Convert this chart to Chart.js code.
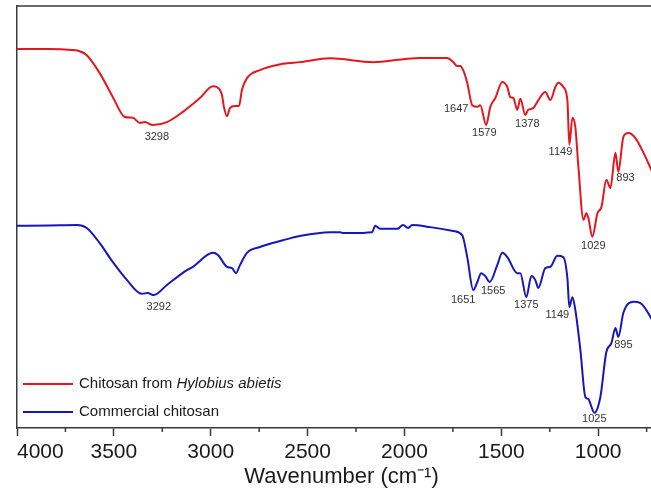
<!DOCTYPE html>
<html>
<head>
<meta charset="utf-8">
<title>FTIR spectra of chitosan</title>
<script src="https://cdn.jsdelivr.net/npm/chart.js@4.4.0/dist/chart.umd.min.js"></script>
<style>
    html, body { margin: 0; padding: 0; background: #fff; overflow: hidden; width: 651px; height: 492px; }
    #wrap { position: relative; width: 680px; height: 492px; }
</style>
</head>
<body>
<div id="wrap"><canvas id="ftirChart" width="680" height="492"></canvas></div>
<script>
// Spectrum values (wavenumber in cm-1, transmittance in a.u.)
const hylobiusWn = [4000, 3831, 3719, 3685, 3641, 3573, 3505, 3443, 3402, 3366, 3340, 3299, 3226, 3144, 3056, 2989, 2968, 2942, 2932, 2916,
    2901, 2875, 2854, 2839, 2813, 2746, 2627, 2539, 2384, 2162, 2007, 1919, 1779, 1748, 1728, 1712, 1697, 1676, 1650, 1624,
    1609, 1578, 1557, 1531, 1495, 1469, 1454, 1438, 1418, 1402, 1376, 1361, 1335, 1309, 1273, 1247, 1221, 1206, 1180, 1159,
    1149, 1133, 1118, 1102, 1076, 1061, 1051, 1030, 1004, 983, 958, 937, 911, 896, 870, 844, 808, 766, 730, 690];
const hylobiusT = [89.8, 89.8, 89.6, 89.4, 88.4, 84.1, 78.4, 73.7, 73.5, 72.3, 72.5, 71.8, 72.5, 74.9, 78.2, 81.0, 80.8, 78.9, 76.1, 73.9,
    75.8, 76.3, 76.3, 80.1, 82.9, 84.8, 86.3, 86.7, 87.6, 86.7, 87.4, 87.7, 87.7, 86.7, 85.8, 85.8, 84.8, 81.8, 76.5, 76.1,
    76.5, 71.8, 76.1, 78.2, 82.0, 80.8, 78.4, 78.2, 75.4, 78.0, 74.2, 75.4, 75.8, 77.7, 79.6, 77.7, 80.8, 81.8, 80.8, 77.7,
    67.1, 73.5, 71.3, 61.8, 49.3, 50.9, 49.8, 45.3, 50.9, 52.4, 58.8, 56.9, 65.2, 60.7, 69.0, 69.9, 68.7, 65.2, 61.6, 57.5];

const commercialWn = [4000, 3831, 3691, 3640, 3573, 3505, 3433, 3356, 3325, 3294, 3226, 3123, 3092, 2989, 2963, 2916, 2890, 2870, 2849, 2813,
    2746, 2627, 2539, 2384, 2332, 2317, 2281, 2167, 2151, 2126, 2038, 2007, 1981, 1960, 1867, 1748, 1702, 1676, 1645, 1624,
    1604, 1583, 1560, 1521, 1495, 1469, 1418, 1402, 1371, 1345, 1325, 1309, 1273, 1247, 1211, 1180, 1159, 1149, 1133, 1118,
    1092, 1066, 1051, 1040, 1020, 989, 958, 932, 911, 896, 870, 818, 782, 730, 690];
const commercialT = [47.9, 48.0, 48.1, 47.4, 43.8, 39.3, 35.1, 31.8, 32.0, 31.5, 33.9, 37.4, 38.2, 41.5, 41.0, 38.2, 37.9, 36.7, 38.6, 41.5,
    42.9, 44.5, 45.5, 46.4, 46.4, 46.2, 46.2, 46.4, 47.9, 47.2, 47.2, 48.1, 47.4, 48.1, 47.6, 46.7, 45.7, 40.5, 32.7, 34.6,
    36.7, 36.0, 34.6, 38.6, 41.5, 40.5, 36.7, 36.7, 31.0, 36.0, 35.1, 33.2, 37.9, 38.2, 40.8, 40.5, 35.5, 28.7, 31.0, 28.0,
    18.5, 7.3, 6.9, 5.7, 3.6, 7.3, 18.0, 20.1, 23.7, 21.6, 27.3, 29.9, 29.6, 26.3, 22.5];

// Peak labels and where they sit (wavenumber, transmittance)
const hylobiusPeakLabels = ['3298', '1647', '1579', '1378', '1149', '1029', '893'];
const hylobiusPeakWn = [3278, 1733, 1588, 1366, 1195, 1025, 859];
const hylobiusPeakT = [69.0, 75.6, 69.9, 72.0, 65.4, 43.1, 59.2];

const commercialPeakLabels = ['3292', '1651', '1565', '1375', '1149', '895', '1025'];
const commercialPeakWn = [3268, 1697, 1542, 1371, 1211, 870, 1020];
const commercialPeakT = [28.7, 30.3, 32.5, 29.1, 26.8, 19.7, 2.1];

const tickValues = [4000, 3500, 3000, 2500, 2000, 1500, 1000];
const minorTickValues = [3750, 3250, 2750, 2250, 1750, 1250, 750];
const seriesNames = ['Chitosan from ', 'Hylobius abietis', 'Commercial chitosan'];

const X_MIN = 650, X_MAX = 4000;
const RED = 'rgb(226, 24, 30)';
const BLUE = 'rgb(22, 22, 190)';
const AXIS = '#3a3a3a';
const FONT = "'Liberation Sans', Arial, sans-serif";

function toPoints(xs, ys) {
    return xs.map((x, i) => ({ x: x, y: ys[i] }));
}

// extra drawing: top frame line, minor ticks, peak labels and the legend
const decorPlugin = {
    id: 'decor',
    afterDraw(chart) {
        const ctx = chart.ctx;
        const area = chart.chartArea;
        const xs = chart.scales.x;
        const ys = chart.scales.y;
        ctx.save();

        ctx.strokeStyle = AXIS;
        ctx.lineWidth = 1.5;
        ctx.beginPath();
        ctx.moveTo(area.left, area.top);
        ctx.lineTo(area.right, area.top);
        ctx.stroke();

        minorTickValues.forEach(v => {
            const px = xs.getPixelForValue(v);
            ctx.beginPath();
            ctx.moveTo(px, area.bottom);
            ctx.lineTo(px, area.bottom + 4);
            ctx.stroke();
        });

        ctx.fillStyle = '#333';
        ctx.font = '11px ' + FONT;
        ctx.textAlign = 'center';
        ctx.textBaseline = 'middle';
        hylobiusPeakLabels.forEach((t, i) => {
            ctx.fillText(t, xs.getPixelForValue(hylobiusPeakWn[i]), ys.getPixelForValue(hylobiusPeakT[i]));
        });
        commercialPeakLabels.forEach((t, i) => {
            ctx.fillText(t, xs.getPixelForValue(commercialPeakWn[i]), ys.getPixelForValue(commercialPeakT[i]));
        });

        // legend
        const lx = area.left + 6;
        const rows = [area.top + 378, area.top + 406];
        ctx.lineWidth = 2;
        ctx.strokeStyle = RED;
        ctx.beginPath();
        ctx.moveTo(lx, rows[0]);
        ctx.lineTo(lx + 50, rows[0]);
        ctx.stroke();
        ctx.strokeStyle = BLUE;
        ctx.beginPath();
        ctx.moveTo(lx, rows[1]);
        ctx.lineTo(lx + 50, rows[1]);
        ctx.stroke();

        ctx.fillStyle = '#1a1a1a';
        ctx.textAlign = 'left';
        ctx.font = '15px ' + FONT;
        ctx.fillText(seriesNames[0], lx + 56, rows[0]);
        const w = ctx.measureText(seriesNames[0]).width;
        ctx.font = 'italic 15px ' + FONT;
        ctx.fillText(seriesNames[1], lx + 56 + w, rows[0]);
        ctx.font = '15px ' + FONT;
        ctx.fillText(seriesNames[2], lx + 56, rows[1]);

        ctx.restore();
    }
};

new Chart(document.getElementById('ftirChart'), {
    type: 'line',
    data: {
        datasets: [{
            label: 'Chitosan from Hylobius abietis',
            data: toPoints(hylobiusWn, hylobiusT),
            borderColor: RED,
            borderWidth: 2,
            pointRadius: 0,
            fill: false,
            cubicInterpolationMode: 'monotone'
        }, {
            label: 'Commercial chitosan',
            data: toPoints(commercialWn, commercialT),
            borderColor: BLUE,
            borderWidth: 2,
            pointRadius: 0,
            fill: false,
            cubicInterpolationMode: 'monotone'
        }]
    },
    options: {
        responsive: false,
        animation: false,
        layout: { padding: { left: 17, top: 6, right: 14, bottom: 0 } },
        plugins: {
            legend: { display: false },
            tooltip: { enabled: false }
        },
        scales: {
            x: {
                type: 'linear',
                reverse: true,
                min: X_MIN,
                max: X_MAX,
                afterBuildTicks: scale => {
                    scale.ticks = [X_MIN].concat(tickValues.slice().reverse()).map(v => ({ value: v }));
                },
                afterFit: scale => {
                    scale.height = 64;
                },
                ticks: {
                    align: 'inner',
                    autoSkip: false,
                    maxRotation: 0,
                    padding: 4,
                    color: '#1a1a1a',
                    font: { family: FONT, size: 21 },
                    callback: v => tickValues.includes(v) ? String(v) : ''
                },
                grid: {
                    drawOnChartArea: false,
                    drawTicks: true,
                    tickLength: 8,
                    tickColor: AXIS,
                    tickWidth: 1.5
                },
                border: { color: AXIS, width: 1.5 },
                title: {
                    display: true,
                    text: 'Wavenumber (cm\u207B\u00B9)',
                    color: '#1a1a1a',
                    font: { family: FONT, size: 22 },
                    padding: { top: 0, bottom: 2 }
                }
            },
            y: {
                min: 0,
                max: 100,
                ticks: { display: false },
                grid: { display: false, drawTicks: false },
                border: { display: true, color: AXIS, width: 1.5 }
            }
        }
    },
    plugins: [decorPlugin]
});
</script>
</body>
</html>
